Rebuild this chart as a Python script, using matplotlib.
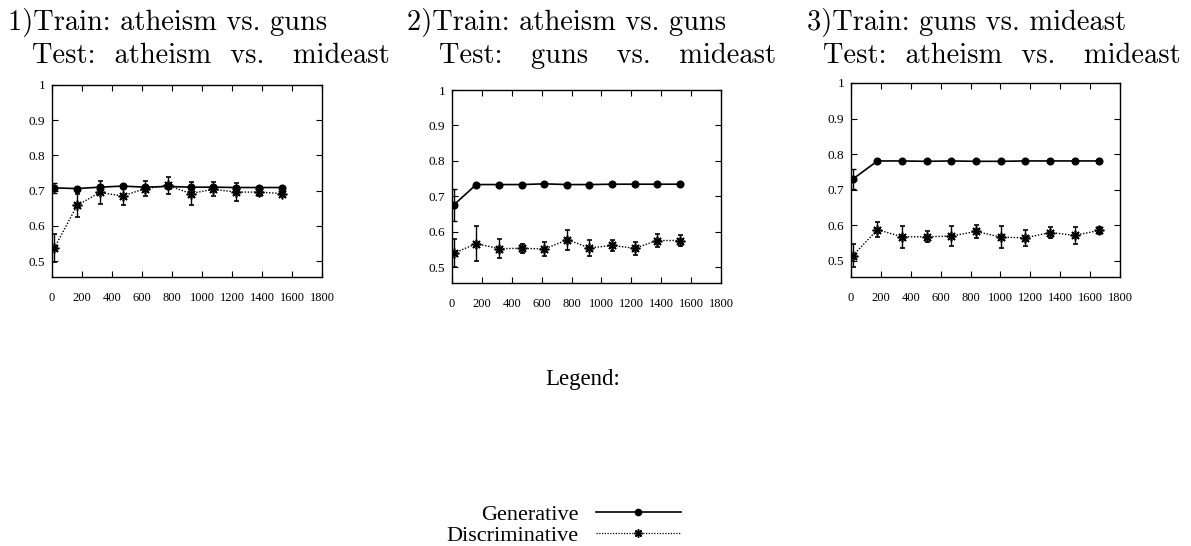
import matplotlib
matplotlib.use("Agg")
import matplotlib.pyplot as plt
from matplotlib.lines import Line2D

W, H = 1191, 546

# ---------------- data ----------------
x1 = [15, 167, 318, 470, 621, 773, 924, 1076, 1227, 1379, 1530]
gen1 = [0.708, 0.706, 0.710, 0.713, 0.710, 0.712, 0.710, 0.710, 0.709, 0.709, 0.709]
gen1_err = [0.015, 0.004, 0.006, 0.004, 0.005, 0.004, 0.004, 0.005, 0.004, 0.004, 0.004]
dis1 = [0.537, 0.658, 0.695, 0.685, 0.706, 0.715, 0.692, 0.704, 0.696, 0.696, 0.692]
dis1_err = [0.040, 0.034, 0.033, 0.027, 0.022, 0.025, 0.033, 0.020, 0.025, 0.012, 0.008]

x2 = [11, 162, 316, 469, 618, 772, 920, 1072, 1224, 1373, 1525]
gen2 = [0.675, 0.733, 0.733, 0.733, 0.735, 0.733, 0.733, 0.734, 0.734, 0.734, 0.734]
gen2_err = [0.045, 0.002, 0.002, 0.002, 0.002, 0.002, 0.002, 0.002, 0.002, 0.002, 0.002]
dis2 = [0.539, 0.566, 0.552, 0.553, 0.551, 0.577, 0.554, 0.561, 0.553, 0.575, 0.575]
dis2_err = [0.040, 0.049, 0.026, 0.012, 0.020, 0.028, 0.022, 0.015, 0.018, 0.017, 0.015]

x3 = [12, 177, 342, 507, 672, 837, 1002, 1167, 1332, 1497, 1662]
gen3 = [0.730, 0.781, 0.781, 0.780, 0.781, 0.780, 0.780, 0.781, 0.781, 0.781, 0.781]
gen3_err = [0.028, 0.002, 0.002, 0.002, 0.002, 0.002, 0.002, 0.002, 0.002, 0.002, 0.002]
dis3 = [0.515, 0.588, 0.568, 0.568, 0.570, 0.583, 0.567, 0.565, 0.580, 0.572, 0.586]
dis3_err = [0.033, 0.022, 0.031, 0.016, 0.029, 0.018, 0.030, 0.022, 0.016, 0.024, 0.010]

xticks = [0, 200, 400, 600, 800, 1000, 1200, 1400, 1600, 1800]
yticks = [0.5, 0.6, 0.7, 0.8, 0.9, 1.0]
ytick_labels = ["0.5", "0.6", "0.7", "0.8", "0.9", "1"]

titles1 = ["1)Train: atheism vs. guns", "2)Train: atheism vs. guns", "3)Train: guns vs. mideast"]
titles2 = ["Test:  atheism  vs.   mideast", "Test:   guns   vs.   mideast",
           "Test:  atheism  vs.   mideast"]
series_labels = ["Generative", "Discriminative"]
legend_title = "Legend:"

# ---------------- layout ----------------
fig = plt.figure(figsize=(W / 100, H / 100), dpi=100)

rects = [(52, 85, 270, 192), (452, 90, 269, 193), (851, 83, 269, 194)]
title_x1 = [8, 407, 807]
title_x2 = [32, 439, 823]
base_y1, base_y2 = 30, 63

data = [(x1, gen1, gen1_err, dis1, dis1_err),
        (x2, gen2, gen2_err, dis2, dis2_err),
        (x3, gen3, gen3_err, dis3, dis3_err)]

serif = ["Liberation Serif", "DejaVu Serif"]
ast = (8, 2, 0)

for i, (l, t, w, h) in enumerate(rects):
    ax = fig.add_axes([l / W, 1 - (t + h) / H, w / W, h / H])
    xs, g, ge, d, de = data[i]
    ax.errorbar(xs, g, yerr=ge, color="black", lw=1.2, marker="o", ms=4.8,
                capsize=1.8, elinewidth=1.0, capthick=1.0)
    ax.errorbar(xs, d, yerr=de, color="black", lw=1.0, ls=(0, (1, 1.2)),
                marker=ast, ms=7, mew=1.2, capsize=1.8, elinewidth=1.0, capthick=1.0)
    ax.set_xlim(0, 1800)
    ax.set_ylim(0.455, 1.0)
    ax.set_xticks(xticks)
    ax.set_xticklabels([str(v) for v in xticks])
    ax.set_yticks(yticks)
    ax.set_yticklabels(ytick_labels)
    ax.tick_params(direction="in", length=4, width=0.8, top=True, right=True,
                   labelsize=9)
    ax.tick_params(axis="x", pad=11)
    ax.tick_params(axis="y", pad=5, labelsize=9.5)
    for lab in ax.get_xticklabels() + ax.get_yticklabels():
        lab.set_family(serif)
    for s in ax.spines.values():
        s.set_linewidth(1.0)

    fig.text(title_x1[i] / W, 1 - base_y1 / H, titles1[i], family="cmr10",
             fontsize=20.5, ha="left", va="baseline")
    fig.text(title_x2[i] / W, 1 - base_y2 / H, titles2[i], family="cmr10",
             fontsize=20.5, ha="left", va="baseline")

fig.text(583 / W, 1 - 380 / H, legend_title, family=serif, fontsize=16.5,
         ha="center", va="center")

handles = [Line2D([], [], color="black", lw=1.2, marker="o", ms=4.5),
           Line2D([], [], color="black", lw=0.9, ls=(0, (1, 1.2)), marker=ast, ms=6, mew=1.1)]
leg = fig.legend(handles, series_labels, loc="center", bbox_to_anchor=(564 / W, 1 - 525 / H),
                 markerfirst=False, frameon=False, numpoints=1, handlelength=3.85,
                 handletextpad=0.75, labelspacing=0.0, borderpad=0,
                 prop={"family": serif, "size": 16})

fig.savefig("out.png", dpi=100)
